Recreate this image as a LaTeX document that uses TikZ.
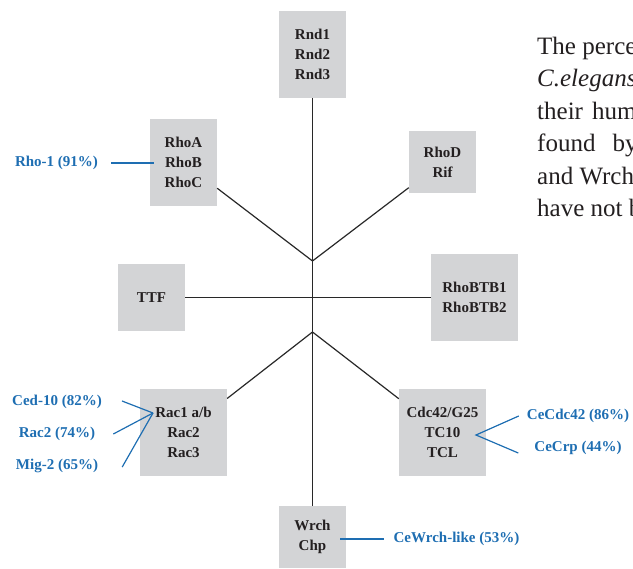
\documentclass[tikz,border=0pt]{standalone}
\usepackage{fontspec}
\setmainfont{Liberation Serif}
\usetikzlibrary{calc}
\definecolor{boxgray}{RGB}{211,212,214}
\definecolor{labelblue}{RGB}{30,110,178}
\definecolor{linegray}{RGB}{40,40,40}
\definecolor{textdark}{RGB}{35,31,32}
\begin{document}
\begin{tikzpicture}[x=1pt,y=-1pt,
  gbox/.style={fill=boxgray, draw=none, inner sep=0pt, align=center,
    font=\fontsize{15}{20}\selectfont\bfseries, text=textdark},
  blab/.style={text=labelblue, font=\fontsize{15}{18}\selectfont\bfseries, inner sep=0pt},
  tree/.style={draw=linegray, line width=1.2pt},
  bline/.style={draw=labelblue, line width=1.2pt},
  body/.style={anchor=base west, inner sep=0pt, font=\fontsize{25}{32}\selectfont, text=textdark}]
\useasboundingbox (0,0) rectangle (633,569);
\clip (0,0) rectangle (633,569);

% grey boxes
\node[gbox, minimum width=67pt, minimum height=87pt] (rnd)    at (312.5,54.5)  {Rnd1\\Rnd2\\Rnd3};
\node[gbox, minimum width=67pt, minimum height=87pt] (rhoa)   at (183.5,162.5) {RhoA\\RhoB\\RhoC};
\node[gbox, minimum width=67pt, minimum height=62pt] (rhod)   at (442.5,162)   {RhoD\\Rif};
\node[gbox, minimum width=67pt, minimum height=67pt] (ttf)    at (151.5,297.5) {TTF};
\node[gbox, minimum width=87pt, minimum height=87pt] (rhobtb) at (474.5,297.5) {RhoBTB1\\RhoBTB2};
\node[gbox, minimum width=87pt, minimum height=87pt] (rac)    at (183.5,432.5) {Rac1 a/b\\Rac2\\Rac3};
\node[gbox, minimum width=87pt, minimum height=87pt] (cdc)    at (442.5,432.5) {Cdc42/G25\\TC10\\TCL};
\node[gbox, minimum width=67pt, minimum height=62pt] (wrch)   at (312.5,537)   {Wrch\\Chp};

% junctions
\coordinate (j1) at (312.5,261);
\coordinate (j2) at (312.5,332);

% tree
\draw[tree] (rnd) -- (wrch);
\draw[tree] (ttf) -- (rhobtb);
\draw[tree] (rhoa) -- (j1) -- (rhod);
\draw[tree] (rac) -- (j2) -- (cdc);

% blue labels
\node[blab] (rho1)   at (56.5,163) {Rho-1 (91\%)};
\node[blab] (ced)    at (57,402)   {Ced-10 (82\%)};
\node[blab] (rac2l)  at (57,434)   {Rac2 (74\%)};
\node[blab] (mig)    at (57,466)   {Mig-2 (65\%)};
\node[blab] (cecdc)  at (578,416)  {CeCdc42 (86\%)};
\node[blab] (cecrp)  at (578,448)  {CeCrp (44\%)};
\node[blab] (cewrch) at (456.5,539) {CeWrch-like (53\%)};

\coordinate (ractip) at (153,413);
\coordinate (cdctip) at (476,435);

\draw[bline] ([xshift=13pt]rho1.east) -- ([xshift=4pt]rho1.east -| rhoa.west);
\draw[bline] ([xshift=20pt,yshift=1pt]ced.east) -- (ractip);
\draw[bline] ([xshift=18pt]rac2l.east) -- (ractip);
\draw[bline] ([xshift=24pt,yshift=-1pt]mig.east) -- (ractip);
\draw[bline] ([xshift=-8pt]cecdc.west) -- (cdctip) -- ([xshift=-16pt,yshift=-5pt]cecrp.west);
\draw[bline] ([xshift=-6pt]wrch.east |- cewrch.west) -- ([xshift=-9pt]cewrch.west);

% body text (clipped at the right edge)
\node[body] (l1) at (537,54.5)  {The percentage};
\node[body] (l2) at (537,86.9)  {\itshape C.elegans};
\node[body] (l3) at (537,119.3) {their\hspace{9pt}human};
\node[body] (l4) at (537,151.7) {found\hspace{17pt}by};
\node[body] (l5) at (537,184.1) {and Wrch};
\node[body] (l6) at (537,216.5) {have not been};
\end{tikzpicture}
\end{document}
